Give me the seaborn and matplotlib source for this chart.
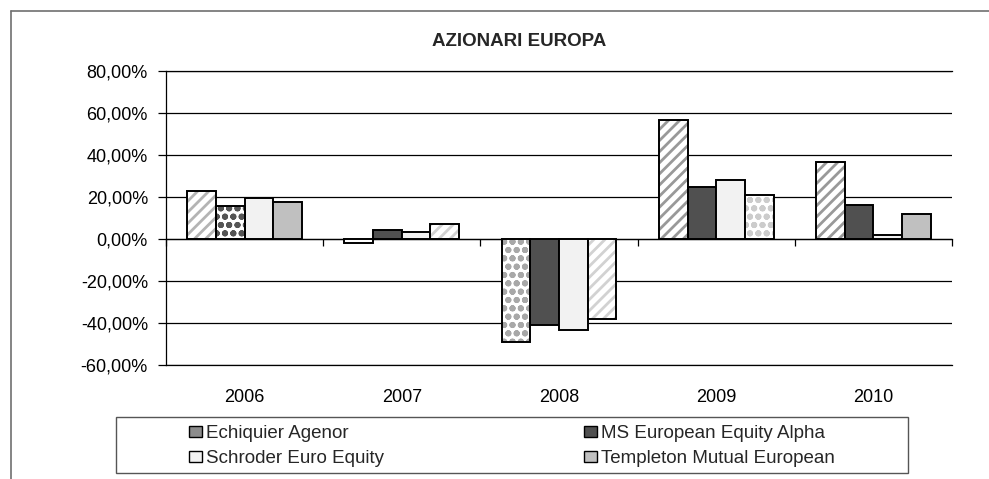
import pandas as pd
import matplotlib.pyplot as plt
import matplotlib.patches as mpatches
from matplotlib.lines import Line2D
from matplotlib.ticker import FuncFormatter
import seaborn as sns

# data (yearly returns, %)
years = ['2006', '2007', '2008', '2009', '2010']
funds = ['Echiquier Agenor', 'MS European Equity Alpha',
         'Schroder Euro Equity', 'Templeton Mutual European']
echiquier = [23.0, -2.0, -48.9, 56.7, 36.5]
ms_alpha = [15.6, 4.1, -40.8, 24.8, 16.2]
schroder = [19.7, 3.2, -43.5, 27.9, 2.0]
templeton = [17.8, 7.1, -38.1, 21.1, 11.9]

colors = ['#8c8c8c', '#505050', '#f2f2f2', '#c0c0c0']

# Excel-style fill patterns on some single bars: (hatch, hatch colour)
patterns = {
    ('Echiquier Agenor', '2006'): ('///', '#b4b4b4'),
    ('MS European Equity Alpha', '2006'): ('oo', '#555555'),
    ('Echiquier Agenor', '2007'): ('--', '#909090'),
    ('Templeton Mutual European', '2007'): ('///', '#d2d2d2'),
    ('Echiquier Agenor', '2008'): ('oo', '#a8a8a8'),
    ('Templeton Mutual European', '2008'): ('///', '#d2d2d2'),
    ('Echiquier Agenor', '2009'): ('///', '#999999'),
    ('Templeton Mutual European', '2009'): ('oo', '#cccccc'),
    ('Echiquier Agenor', '2010'): ('///', '#999999'),
}

df = pd.DataFrame({
    'Anno': years * 4,
    'Fondo': [f for f in funds for _ in years],
    'Rendimento': echiquier + ms_alpha + schroder + templeton,
})

sns.set_theme(style='white')
plt.rcParams['font.family'] = ['Liberation Sans', 'DejaVu Sans']
plt.rcParams['hatch.linewidth'] = 2.0

fig = plt.figure(figsize=(9.89, 4.79), dpi=100)
ax = fig.add_axes([166 / 989, 1 - 365 / 479, 786 / 989, 294 / 479])

sns.barplot(data=df, x='Anno', y='Rendimento', hue='Fondo', order=years,
            hue_order=funds, palette=colors, width=0.73, gap=0,
            saturation=1, ax=ax, errorbar=None)

# bars: black outline, some with a pattern fill
for fund, cont in zip(funds, ax.containers):
    for year, bar in zip(years, cont.patches):
        key = (fund, year)
        if key in patterns:
            hatch, hcol = patterns[key]
            bar.set_facecolor('white')
            bar.set_edgecolor(hcol)
            bar.set_hatch(hatch)
            bar.set_linewidth(0)
            ax.add_patch(mpatches.Rectangle((bar.get_x(), bar.get_y()),
                                            bar.get_width(), bar.get_height(),
                                            fill=False, edgecolor='black',
                                            linewidth=1.4, zorder=bar.get_zorder() + 0.1))
        else:
            bar.set_edgecolor('black')
            bar.set_linewidth(1.4)

ymin, ymax = -60, 80
ax.set_ylim(ymin, ymax)
ax.set_xlim(-0.5, len(years) - 0.5)
ax.set_yticks(range(ymin, ymax + 1, 20))
ax.yaxis.set_major_formatter(FuncFormatter(lambda v, p: f'{v:.2f}%'.replace('.', ',')))
ax.yaxis.grid(True, color='black', linewidth=0.9)
ax.set_axisbelow(True)
ax.tick_params(axis='y', left=True, length=6, width=0.9, color='black',
               direction='out', pad=7, labelsize=13, labelcolor='black')
ax.tick_params(axis='x', bottom=False, length=0, pad=17, labelsize=13,
               labelcolor='black')
ax.set_xlabel('')
ax.set_ylabel('')
ax.spines['right'].set_visible(False)
for side in ['left', 'top', 'bottom']:
    ax.spines[side].set_color('black')
    ax.spines[side].set_linewidth(0.9)

# category boundary ticks on the zero line
sec = ax.secondary_xaxis((0 - ymin) / (ymax - ymin))
sec.xaxis.set_ticks_position('bottom')
sec.set_xticks([i - 0.5 for i in range(len(years) + 1)])
sec.set_xticklabels([])
sec.tick_params(axis='x', direction='out', length=5, width=0.9, color='black',
                labelbottom=False, labeltop=False)
sec.spines['bottom'].set_color('black')
sec.spines['bottom'].set_linewidth(0.9)

fig.text(519 / 989, 1 - 41 / 479, 'AZIONARI EUROPA', ha='center', va='center',
         fontsize=13.5, fontweight='bold')

# legend, filled row by row like the original
handles, labels = ax.get_legend_handles_labels()
ax.legend_.remove()
for h in handles:
    h.set_edgecolor('black')
    h.set_linewidth(1.0)
order = [0, 2, 1, 3]
fig.legend([handles[i] for i in order], [labels[i] for i in order], ncol=2,
           loc='center', bbox_to_anchor=(512 / 989, 1 - 446 / 479), frameon=False,
           fontsize=13.5, handlelength=0.69, handleheight=0.55,
           handletextpad=0.22, columnspacing=10.7, labelspacing=0.45)
fig.add_artist(mpatches.Rectangle((116 / 989, 1 - 473 / 479), 792 / 989, 56 / 479,
                                  transform=fig.transFigure, fill=False,
                                  edgecolor='#555555', linewidth=1.0))

# chart area border (cut off at right and bottom)
fig.add_artist(Line2D([11 / 989, 11 / 989], [0, 1 - 11 / 479], transform=fig.transFigure,
                      color='#707070', linewidth=1.2))
fig.add_artist(Line2D([11 / 989, 1], [1 - 11 / 479, 1 - 11 / 479], transform=fig.transFigure,
                      color='#707070', linewidth=1.2))

fig.savefig('out.png', dpi=100)
